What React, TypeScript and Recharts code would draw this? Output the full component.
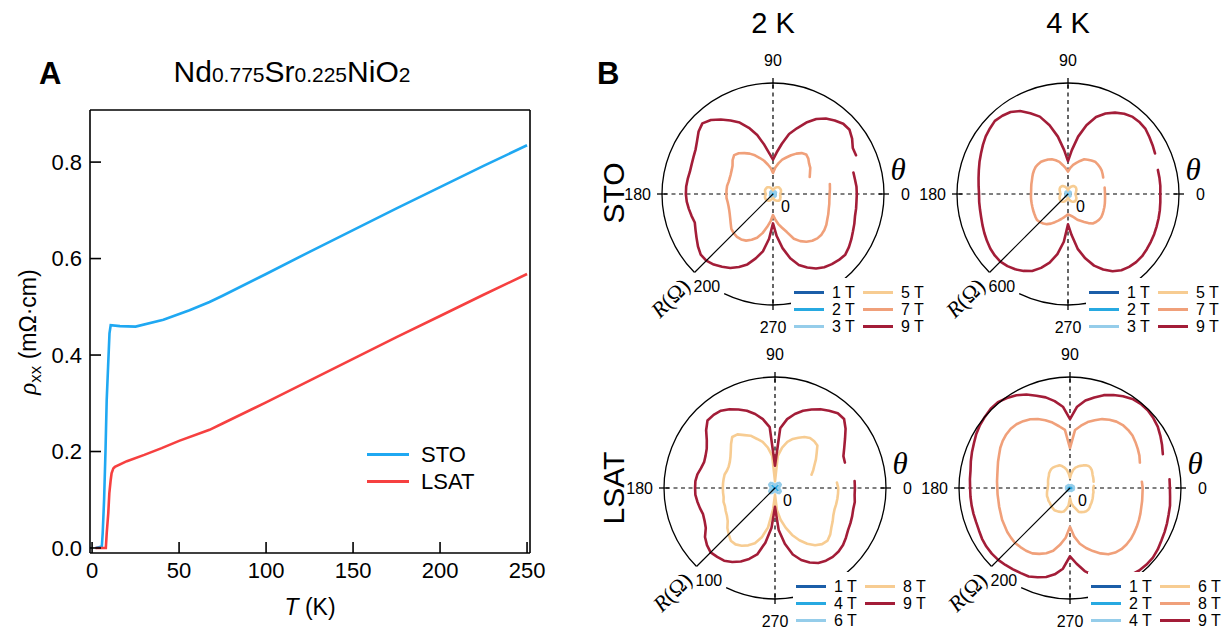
import React from 'react';
import {
  LineChart, Line, XAxis, YAxis, Legend,
  RadarChart, Radar, PolarGrid, PolarAngleAxis, PolarRadiusAxis,
} from 'recharts';

const SANS = '"Liberation Sans", Arial, Helvetica, sans-serif';
const SERIF = '"Liberation Serif", "Times New Roman", serif';

// ---------- Panel A data ----------
const STO_T = [2, 5.6, 6.1, 6.9, 7.7, 8.4, 9.2, 10, 10.7, 16, 25, 41, 56, 67.5, 75, 100, 125, 150, 175, 200, 225, 250];
const STO_RHO = [0, 0.003, 0.031, 0.1, 0.2, 0.307, 0.376, 0.445, 0.462, 0.46, 0.459, 0.473, 0.493, 0.51, 0.523, 0.568, 0.614, 0.659, 0.704, 0.748, 0.792, 0.835];
const LSAT_T = [2, 7.9, 8.4, 9.3, 9.9, 10.7, 11.2, 12.2, 13.1, 20, 30, 40, 50, 67.5, 75, 100, 125, 150, 175, 200, 225, 250];
const LSAT_RHO = [0, 0, 0.03, 0.072, 0.113, 0.141, 0.155, 0.165, 0.168, 0.18, 0.193, 0.207, 0.222, 0.245, 0.258, 0.302, 0.347, 0.392, 0.437, 0.481, 0.525, 0.568];
const X_TICKS = [0, 50, 100, 150, 200, 250];
const Y_TICKS = [0, 0.2, 0.4, 0.6, 0.8];
const STO_COLOR = '#1fa8f2';
const LSAT_COLOR = '#f64040';

// ---------- Panel B data (theta in degrees, R in ohm) ----------
const ANGLES = [
  0, 5, 10, 15, 20, 25, 30, 35, 40, 45, 50, 55, 60, 65, 70, 75, 80, 85,
  90, 95, 100, 105, 110, 115, 120, 125, 130, 135, 140, 145, 150, 155, 160, 165, 170, 175,
  180, 185, 190, 195, 200, 205, 210, 215, 220, 225, 230, 235, 240, 245, 250, 255, 260, 265,
  270, 275, 280, 285, 290, 295, 300, 305, 310, 315, 320, 325, 330, 335, 340, 345, 350, 355,
];
const THETA_TICKS = [0, 90, 180, 270];

// 2 K, STO
const STO2_9T = [
  151, 151, 150, 150, null, 165, 166, 174, 180, 179, 173, 166, 156, 142, 126, 112, 92, 75,
  62, 73, 90, 110, 127, 142, 153, 164, 174, 180, 175, 167, 161, 158, 156, 155, 156, 157,
  157, 156, 154, 152, 150, 154, 159, 165, 170, 170, 166, 160, 154, 145, 135, 120, 105, 81,
  53, 76, 99, 120, 136, 146, 155, 161, 165, 168, 170, 167, 163, 159, 156, 153, 152, 151,
];
const STO2_7T = [
  102, 103, 104, null, null, 73, 77, 82, 85, 90, 93, 90, 84, 77, 70, 64, 56, 48,
  38, 47, 54, 62, 69, 77, 84, 90, 96, 99, 95, 89, 86, 84, 83, 83, 84, 84,
  84, 84, 83, 83, 84, 86, 89, 93, 98, 100, 101, 100, 97, 91, 84, 73, 60, 49,
  38, 46, 55, 63, 73, 89, 98, 105, 110, 113, 114, 113, 111, 108, 106, 104, 103, 102,
];
const STO2_5T = [
  13, 13, 14, 15, 15, 16, 16, 16, 16, 16, 16, 15, 14, 13, 12, 10, 9, 8,
  7, 8, 9, 10, 12, 13, 14, 15, 16, 16, 16, 16, 16, 16, 15, 15, 14, 13,
  13, 13, 14, 15, 15, 16, 16, 16, 16, 16, 15, 15, 14, 13, 11, 10, 9, 8,
  7, 8, 9, 11, 12, 13, 14, 15, 16, 16, 16, 16, 15, 15, 14, 14, 13, 13,
];
const STO2_3T = [
  4, 4, 5, 5, 5, 6, 6, 6, 6, 6, 6, 6, 5, 5, 5, 4, 4, 4,
  4, 4, 4, 5, 5, 5, 6, 6, 6, 6, 6, 6, 6, 5, 5, 5, 4, 4,
  4, 4, 5, 5, 5, 6, 6, 6, 6, 6, 6, 6, 5, 5, 5, 4, 4, 4,
  4, 4, 4, 5, 5, 5, 6, 6, 6, 6, 6, 6, 6, 5, 5, 5, 4, 4,
];
const STO2_2T = [
  2, 3, 3, 3, 3, 3, 3, 3, 3, 3, 3, 3, 3, 3, 3, 3, 3, 2,
  2, 3, 3, 3, 3, 3, 3, 3, 3, 3, 3, 3, 3, 3, 3, 3, 3, 2,
  2, 3, 3, 3, 3, 3, 3, 3, 3, 3, 3, 3, 3, 3, 3, 3, 3, 2,
  2, 3, 3, 3, 3, 3, 3, 3, 3, 3, 3, 3, 3, 3, 3, 3, 3, 2,
];
const STO2_1T = [
  1, 1, 1, 1, 1, 1, 1, 1, 1, 1, 1, 1, 1, 1, 1, 1, 1, 1,
  1, 1, 1, 1, 1, 1, 1, 1, 1, 1, 1, 1, 1, 1, 1, 1, 1, 1,
  1, 1, 1, 1, 1, 1, 1, 1, 1, 1, 1, 1, 1, 1, 1, 1, 1, 1,
  1, 1, 1, 1, 1, 1, 1, 1, 1, 1, 1, 1, 1, 1, 1, 1, 1, 1,
];

// 4 K, STO
const STO4_9T = [
  499, 501, 502, 503, null, 519, 528, 537, 547, 548, 544, 530, 508, 480, 443, 385, 315, 238,
  178, 238, 315, 385, 445, 482, 518, 541, 552, 559, 551, 543, 531, 519, 509, 499, 491, 485,
  481, 482, 483, 486, 492, 499, 506, 513, 517, 517, 509, 497, 480, 459, 425, 384, 330, 259,
  164, 223, 301, 360, 412, 450, 482, 503, 514, 521, 523, 520, 517, 514, 510, 507, 504, 501,
];
const STO4_7T = [
  200, 200, 201, null, null, 210, 216, 222, 225, 227, 228, 221, 214, 207, 190, 174, 160, 142,
  121, 140, 158, 180, 194, 207, 215, 221, 227, 228, 228, 224, 219, 213, 208, 205, 202, 200,
  200, 201, 202, 203, 205, 208, 211, 215, 219, 215, 208, 199, 185, 168, 153, 140, 128, 118,
  110, 115, 122, 132, 148, 160, 175, 192, 208, 214, 218, 219, 216, 212, 209, 206, 203, 201,
];
const STO4_5T = [
  40, 41, 43, 45, 47, 50, 52, 54, 55, 55, 54, 52, 49, 45, 40, 35, 30, 25,
  20, 25, 30, 35, 40, 45, 49, 52, 54, 55, 55, 54, 52, 50, 47, 45, 43, 41,
  40, 42, 44, 46, 48, 50, 52, 53, 54, 54, 53, 51, 48, 44, 39, 34, 29, 24,
  20, 24, 29, 34, 39, 44, 48, 51, 53, 54, 54, 53, 52, 50, 47, 45, 43, 41,
];
const STO4_3T = [
  12, 12, 13, 14, 15, 16, 17, 17, 17, 17, 17, 16, 15, 14, 13, 12, 12, 11,
  11, 12, 12, 13, 14, 15, 16, 17, 17, 17, 17, 17, 16, 15, 14, 13, 12, 12,
  12, 12, 13, 14, 15, 16, 17, 17, 17, 17, 17, 16, 15, 14, 13, 12, 12, 11,
  11, 12, 12, 13, 14, 15, 16, 17, 17, 17, 17, 17, 16, 15, 14, 13, 12, 12,
];
const STO4_2T = [
  7, 7, 8, 8, 8, 9, 9, 9, 9, 9, 9, 9, 8, 8, 8, 7, 7, 7,
  7, 7, 7, 8, 8, 8, 9, 9, 9, 9, 9, 9, 9, 8, 8, 8, 7, 7,
  7, 7, 8, 8, 8, 9, 9, 9, 9, 9, 9, 9, 8, 8, 8, 7, 7, 7,
  7, 7, 7, 8, 8, 8, 9, 9, 9, 9, 9, 9, 9, 8, 8, 8, 7, 7,
];
const STO4_1T = [
  3, 3, 3, 3, 3, 3, 3, 3, 3, 3, 3, 3, 3, 3, 3, 3, 3, 3,
  3, 3, 3, 3, 3, 3, 3, 3, 3, 3, 3, 3, 3, 3, 3, 3, 3, 3,
  3, 3, 3, 3, 3, 3, 3, 3, 3, 3, 3, 3, 3, 3, 3, 3, 3, 3,
  3, 3, 3, 3, 3, 3, 3, 3, 3, 3, 3, 3, 3, 3, 3, 3, 3, 3,
];

// 2 K, LSAT
const LSAT2_9T = [
  72, 72, null, null, 67, 68, 72, 77, 83, 88, 88, 85, 82, 78, 74, 69, 63, 54,
  20, 55, 63, 69, 74, 78, 82, 85, 86, 86, 81, 75, 71, 69, 68, 69, 71, 72,
  72, 72, 71, 70, 69, 70, 72, 77, 80, 82, 81, 80, 77, 73, 68, 62, 50, 36,
  17, 38, 51, 62, 69, 74, 78, 80, 81, 81, 80, 78, 76, 75, 74, 73, 73, 72,
];
const LSAT2_8T = [
  57, 56, null, null, 35, 38, 41, 45, 49, 54, 55, 55, 53, 50, 47, 43, 37, 29,
  6, 29, 37, 43, 47, 52, 55, 59, 60, 56, 52, 49, 47, 46, 46, 47, 47, 47,
  47, 47, 47, 48, 48, 49, 50, 52, 56, 59, 62, 62, 60, 57, 53, 46, 36, 19,
  6, 20, 29, 37, 45, 52, 58, 63, 66, 67, 65, 62, 60, 58, 57, 57, 57, 57,
];
const LSAT2_6T = [
  3, 3, 4, 4, 5, 5, 6, 6, 6, 6, 6, 5, 5, 4, 4, 3, 3, 3,
  2, 3, 3, 3, 4, 4, 5, 5, 6, 6, 6, 6, 6, 5, 5, 4, 4, 3,
  3, 3, 4, 4, 5, 5, 6, 6, 6, 6, 6, 5, 5, 4, 4, 3, 3, 3,
  2, 3, 3, 3, 4, 4, 5, 5, 6, 6, 6, 6, 6, 5, 5, 4, 4, 3,
];
const LSAT2_4T = [
  2, 2, 2, 2, 2, 3, 3, 3, 3, 3, 3, 3, 2, 2, 2, 2, 2, 2,
  2, 2, 2, 2, 2, 2, 3, 3, 3, 3, 3, 3, 3, 2, 2, 2, 2, 2,
  2, 2, 2, 2, 2, 3, 3, 3, 3, 3, 3, 3, 2, 2, 2, 2, 2, 2,
  2, 2, 2, 2, 2, 2, 3, 3, 3, 3, 3, 3, 3, 2, 2, 2, 2, 2,
];
const LSAT2_1T = [
  1, 1, 1, 1, 1, 1, 1, 1, 1, 1, 1, 1, 1, 1, 1, 1, 1, 1,
  1, 1, 1, 1, 1, 1, 1, 1, 1, 1, 1, 1, 1, 1, 1, 1, 1, 1,
  1, 1, 1, 1, 1, 1, 1, 1, 1, 1, 1, 1, 1, 1, 1, 1, 1, 1,
  1, 1, 1, 1, 1, 1, 1, 1, 1, 1, 1, 1, 1, 1, 1, 1, 1, 1,
];

// 4 K, LSAT
const LSAT4_9T = [
  180, 180, null, null, 178, 183, 188, 193, 196, 198, 198, 196, 191, 185, 178, 169, 160, 147,
  124, 147, 159, 169, 177, 186, 193, 198, 202, 202, 200, 198, 195, 191, 188, 185, 182, 181,
  180, 180, 180, 180, 180, 181, 183, 184, 184, 183, 181, 179, 177, 176, 171, 166, 158, 146,
  123, 137, 152, 163, 173, 181, 187, 191, 194, 195, 195, 193, 190, 188, 186, 184, 183, 181,
];
const LSAT4_8T = [
  131, 130, null, null, 134, 138, 141, 144, 147, 148, 148, 146, 142, 137, 130, 123, 114, 105,
  72, 105, 113, 122, 130, 137, 143, 147, 150, 151, 150, 148, 145, 141, 138, 135, 133, 132,
  131, 131, 131, 132, 133, 135, 136, 138, 139, 140, 139, 138, 136, 131, 125, 117, 104, 90,
  70, 88, 102, 112, 121, 130, 138, 142, 144, 144, 143, 141, 139, 137, 135, 133, 132, 131,
];
const LSAT4_6T = [
  42, 43, null, 44, 45, 46, 47, 49, 51, 52, 52, 50, 47, 44, 41, 38, 33, 26,
  18, 26, 33, 38, 42, 45, 46, 47, 48, 48, 47, 46, 44, 43, 42, 41, 40, 40,
  40, 41, 42, 43, 44, 44, 45, 45, 46, 47, 48, 49, 48, 47, 46, 44, 38, 32,
  18, 28, 33, 38, 46, 48, 50, 51, 51, 50, 48, 47, 46, 45, 44, 43, 43, 42,
];
const LSAT4_4T = [
  7, 7, 7, 7, 7, 7, 7, 6, 6, 6, 6, 6, 6, 5, 5, 5, 5, 5,
  5, 5, 5, 5, 5, 6, 6, 6, 6, 6, 6, 6, 7, 7, 7, 7, 7, 7,
  7, 7, 7, 7, 7, 7, 7, 6, 6, 6, 6, 6, 6, 5, 5, 5, 5, 5,
  5, 5, 5, 5, 5, 6, 6, 6, 6, 6, 6, 6, 7, 7, 7, 7, 7, 7,
];
const LSAT4_2T = [
  3, 3, 3, 3, 3, 3, 3, 3, 3, 3, 3, 3, 3, 3, 3, 3, 3, 3,
  3, 3, 3, 3, 3, 3, 3, 3, 3, 3, 3, 3, 3, 3, 3, 3, 3, 3,
  3, 3, 3, 3, 3, 3, 3, 3, 3, 3, 3, 3, 3, 3, 3, 3, 3, 3,
  3, 3, 3, 3, 3, 3, 3, 3, 3, 3, 3, 3, 3, 3, 3, 3, 3, 3,
];
const LSAT4_1T = [
  1, 1, 1, 1, 1, 1, 1, 1, 1, 1, 1, 1, 1, 1, 1, 1, 1, 1,
  1, 1, 1, 1, 1, 1, 1, 1, 1, 1, 1, 1, 1, 1, 1, 1, 1, 1,
  1, 1, 1, 1, 1, 1, 1, 1, 1, 1, 1, 1, 1, 1, 1, 1, 1, 1,
  1, 1, 1, 1, 1, 1, 1, 1, 1, 1, 1, 1, 1, 1, 1, 1, 1, 1,
];

const C_DARK = '#1b5ea8';
const C_MID = '#27a9e1';
const C_PALE = '#95cdea';
const C_LORANGE = '#f7cc92';
const C_ORANGE = '#f0a07a';
const C_RED = '#a31d38';

const PANELS = [
  {
    left: 619, top: 46, rmax: 200,
    series: [
      { name: '1 T', values: STO2_1T, color: C_DARK },
      { name: '2 T', values: STO2_2T, color: C_MID },
      { name: '3 T', values: STO2_3T, color: C_PALE },
      { name: '5 T', values: STO2_5T, color: C_LORANGE },
      { name: '7 T', values: STO2_7T, color: C_ORANGE },
      { name: '9 T', values: STO2_9T, color: C_RED },
    ],
  },
  {
    left: 914, top: 46, rmax: 600,
    series: [
      { name: '1 T', values: STO4_1T, color: C_DARK },
      { name: '2 T', values: STO4_2T, color: C_MID },
      { name: '3 T', values: STO4_3T, color: C_PALE },
      { name: '5 T', values: STO4_5T, color: C_LORANGE },
      { name: '7 T', values: STO4_7T, color: C_ORANGE },
      { name: '9 T', values: STO4_9T, color: C_RED },
    ],
  },
  {
    left: 621, top: 340, rmax: 100,
    series: [
      { name: '1 T', values: LSAT2_1T, color: C_DARK },
      { name: '4 T', values: LSAT2_4T, color: C_MID },
      { name: '6 T', values: LSAT2_6T, color: C_PALE },
      { name: '8 T', values: LSAT2_8T, color: C_LORANGE },
      { name: '9 T', values: LSAT2_9T, color: C_RED },
    ],
  },
  {
    left: 916, top: 340, rmax: 200,
    series: [
      { name: '1 T', values: LSAT4_1T, color: C_DARK },
      { name: '2 T', values: LSAT4_2T, color: C_MID },
      { name: '4 T', values: LSAT4_4T, color: C_PALE },
      { name: '6 T', values: LSAT4_6T, color: C_LORANGE },
      { name: '8 T', values: LSAT4_8T, color: C_ORANGE },
      { name: '9 T', values: LSAT4_9T, color: C_RED },
    ],
  },
];

// ---------- helpers ----------
const labelStyle = { fontFamily: SANS, fontSize: 16, fill: '#000' };

const AngleTick = (props: any) => {
  const { x, y, payload } = props;
  const v = Number(payload && payload.value);
  if (v === 0) {
    return (
      <g>
        <line x1={x - 13} y1={y} x2={x - 3} y2={y} stroke="#000" strokeWidth={1.3} />
        <text x={x + 9} y={y + 6} textAnchor="start" {...labelStyle}>0</text>
      </g>
    );
  }
  if (v === 90) {
    return (
      <g>
        <line x1={x} y1={y + 3} x2={x} y2={y + 13} stroke="#000" strokeWidth={1.3} />
        <text x={x} y={y - 9} textAnchor="middle" {...labelStyle}>90</text>
      </g>
    );
  }
  if (v === 180) {
    return (
      <g>
        <line x1={x + 3} y1={y} x2={x + 13} y2={y} stroke="#000" strokeWidth={1.3} />
        <text x={x - 3} y={y + 6} textAnchor="end" {...labelStyle}>180</text>
      </g>
    );
  }
  if (v === 270) {
    return (
      <g>
        <line x1={x} y1={y - 13} x2={x} y2={y - 3} stroke="#000" strokeWidth={1.3} />
        <text x={x} y={y + 20} textAnchor="middle" {...labelStyle}>270</text>
      </g>
    );
  }
  return <g />;
};

const makeRadiusTick = (rmax: number) => (props: any) => {
  const { x, y, payload } = props;
  const v = Number(payload && payload.value);
  if (v === 0) {
    return <text x={x + 8} y={y + 18} textAnchor="start" {...labelStyle}>0</text>;
  }
  if (Math.abs(v - rmax) < 1e-6) {
    const ax = x - 3;
    const ay = y + 15;
    return (
      <g>
        <text x={x - 1} y={y + 20} textAnchor="start" {...labelStyle}>{rmax}</text>
        <text x={ax} y={ay} textAnchor="end" transform={`rotate(-45 ${ax} ${ay})`} fontFamily={SERIF} fontSize={22} fill="#000">
          <tspan fontStyle="italic">R</tspan>(Ω)
        </text>
      </g>
    );
  }
  return <g />;
};

// Draws the radar outline from the library-computed points, leaving the
// unmeasured angles (null values) open instead of closing the loop.
const OpenRadarShape = (props: any) => {
  const { points, stroke, strokeWidth } = props;
  const pts: any[] = points || [];
  const n = pts.length;
  const isGap = (p: any) => p == null || p.value == null || !Number.isFinite(p.x) || !Number.isFinite(p.y);
  const firstGap = pts.findIndex(isGap);
  let d = '';
  if (firstGap < 0) {
    d = pts.map((p, i) => `${i ? 'L' : 'M'}${p.x},${p.y}`).join('') + 'Z';
  } else {
    let pen = false;
    for (let k = 1; k <= n; k++) {
      const p = pts[(firstGap + k) % n];
      if (isGap(p)) { pen = false; continue; }
      d += `${pen ? 'L' : 'M'}${p.x},${p.y}`;
      pen = true;
    }
  }
  return <path d={d} fill="none" stroke={stroke} strokeWidth={strokeWidth} strokeLinejoin="round" strokeLinecap="round" />;
};

const PolarLegend = ({ items }: any) => (
  <div
    style={{
      display: 'grid', gridTemplateRows: 'repeat(3, 17px)', gridAutoFlow: 'column', gridAutoColumns: '69px',
      background: '#fff', padding: '6px 0 0 3px', width: 134, height: 58, boxSizing: 'border-box',
      fontFamily: SANS, fontSize: 16, color: '#000', lineHeight: '17px',
    }}
  >
    {items.map((it: any) => (
      <div key={it.name} style={{ display: 'flex', alignItems: 'center', whiteSpace: 'nowrap' }}>
        <span style={{ display: 'inline-block', width: 30, height: 3, background: it.color, marginRight: 8 }} />
        <span>{it.name}</span>
      </div>
    ))}
  </div>
);

function PolarPanel({ left, top, rmax, series }: any) {
  const W = 310, H = 290, CX = 154, CY = 148, R = 111;
  const data = ANGLES.map((a, i) => {
    const row: any = { angle: a };
    series.forEach((s: any, k: number) => { row['s' + k] = s.values[i]; });
    return row;
  });
  const circ = 2 * Math.PI * R;
  const dash = `${(circ * 116) / 360} ${(circ * 19) / 360} ${circ} 0`;
  return (
    <div style={{ position: 'absolute', left, top }}>
      <RadarChart
        width={W} height={H} data={data} cx={CX} cy={CY} innerRadius={0} outerRadius={R}
        startAngle={0} endAngle={360} margin={{ top: 0, right: 0, bottom: 0, left: 0 }}
      >
        <PolarGrid gridType="circle" polarAngles={THETA_TICKS} polarRadius={[]} stroke="#000" strokeWidth={1.2} strokeDasharray="4 3.5" />
        <PolarAngleAxis
          dataKey="angle" type="number" domain={[0, 360]} ticks={THETA_TICKS} tickCount={5} axisLineType="circle"
          axisLine={{ stroke: '#000', strokeWidth: 1.3, strokeDasharray: dash }}
          tickLine={false} tickSize={8} tick={AngleTick}
        />
        <PolarRadiusAxis
          angle={225} type="number" domain={[0, rmax]} allowDataOverflow
          axisLine={{ stroke: '#000', strokeWidth: 1.2 }} tickLine={false} tick={makeRadiusTick(rmax)}
        />
        {series.map((s: any, k: number) => (
          <Radar
            key={s.name} name={s.name} dataKey={'s' + k} stroke={s.color} strokeWidth={2.6}
            fill="none" fillOpacity={0} dot={false} activeDot={false} isAnimationActive={false}
            shape={OpenRadarShape}
          />
        ))}
        <Legend
          layout="horizontal" verticalAlign="middle" align="center"
          content={() => <PolarLegend items={series} />}
          wrapperStyle={{ left: CX + 18, top: CY + 84, width: 134, height: 58 }}
        />
      </RadarChart>
    </div>
  );
}

const ALegend = () => (
  <div style={{ fontFamily: SANS, fontSize: 22, color: '#000' }}>
    {[['STO', STO_COLOR], ['LSAT', LSAT_COLOR]].map(([n, c]) => (
      <div key={n} style={{ display: 'flex', alignItems: 'center', height: 27 }}>
        <span style={{ display: 'inline-block', width: 42, height: 3, background: c, marginRight: 12 }} />
        <span>{n}</span>
      </div>
    ))}
  </div>
);

export default function App() {
  const stoData = STO_T.map((t, i) => ({ t, rho: STO_RHO[i] }));
  const lsatData = LSAT_T.map((t, i) => ({ t, rho: LSAT_RHO[i] }));
  const axisStroke = { stroke: '#000', strokeWidth: 1.6 };
  const tickFont = { fill: '#000', fontSize: 22, fontFamily: SANS };
  return (
    <div style={{ position: 'absolute', left: 0, top: 0, width: 1225, height: 630, background: '#fff', overflow: 'hidden' }}>
      <div style={{ position: 'absolute', left: 0, top: 0 }}>
        <LineChart width={560} height={630} margin={{ top: 109, right: 29, bottom: 47, left: 30 }}>
          <XAxis
            xAxisId="b" type="number" dataKey="t" domain={[-1.2, 251.7]} allowDataOverflow ticks={X_TICKS}
            orientation="bottom" height={30} tickSize={-11} tickMargin={20} interval={0}
            axisLine={axisStroke} tickLine={axisStroke} tick={tickFont}
          />
          <XAxis
            xAxisId="t" type="number" dataKey="t" domain={[-1.2, 251.7]} allowDataOverflow ticks={X_TICKS}
            orientation="top" height={1} tickSize={-11} tick={false} interval={0}
            axisLine={axisStroke} tickLine={axisStroke}
          />
          <YAxis
            yAxisId="l" type="number" domain={[-0.0104, 0.908]} allowDataOverflow ticks={Y_TICKS}
            width={60} tickSize={-11} tickMargin={19} interval={0}
            tickFormatter={(v: number) => v.toFixed(1)}
            axisLine={axisStroke} tickLine={axisStroke} tick={tickFont}
          />
          <YAxis
            yAxisId="r" orientation="right" type="number" domain={[-0.0104, 0.908]} allowDataOverflow ticks={Y_TICKS}
            width={1} tickSize={-11} tick={false} interval={0}
            axisLine={axisStroke} tickLine={axisStroke}
          />
          <Line xAxisId="b" yAxisId="l" data={stoData} dataKey="rho" name="STO" type="linear" stroke={STO_COLOR} strokeWidth={2.6} dot={false} activeDot={false} isAnimationActive={false} />
          <Line xAxisId="b" yAxisId="l" data={lsatData} dataKey="rho" name="LSAT" type="linear" stroke={LSAT_COLOR} strokeWidth={2.6} dot={false} activeDot={false} isAnimationActive={false} />
          <Legend
            layout="horizontal" verticalAlign="middle" align="center"
            content={() => <ALegend />}
            wrapperStyle={{ left: 367, top: 441, width: 130, height: 56 }}
          />
        </LineChart>
      </div>

      {PANELS.map((p, i) => <PolarPanel key={i} {...p} />)}

      <svg width={1225} height={630} style={{ position: 'absolute', left: 0, top: 0, pointerEvents: 'none' }}>
        <text x={39} y={84} fontFamily={SANS} fontSize={31} fontWeight="bold" fill="#000">A</text>
        <text x={597} y={84} fontFamily={SANS} fontSize={31} fontWeight="bold" fill="#000">B</text>
        <text x={292} y={82} textAnchor="middle" fontFamily={SANS} fontSize={30} fill="#000">
          Nd<tspan fontSize={21}>0.775</tspan>Sr<tspan fontSize={21}>0.225</tspan>NiO<tspan fontSize={21}>2</tspan>
        </text>
        <text transform="translate(36 332) rotate(-90)" textAnchor="middle" fontFamily={SANS} fontSize={23} fill="#000">
          <tspan fontStyle="italic" fontFamily={SERIF} fontSize={25}>ρ</tspan>
          <tspan fontSize={17} dy={5}>xx</tspan>
          <tspan dy={-5}> (mΩ·cm)</tspan>
        </text>
        <text x={310} y={615} textAnchor="middle" fontFamily={SANS} fontSize={23} fill="#000">
          <tspan fontStyle="italic">T</tspan> (K)
        </text>
        <text x={773} y={33} textAnchor="middle" fontFamily={SANS} fontSize={29} fill="#000">2 K</text>
        <text x={1068} y={33} textAnchor="middle" fontFamily={SANS} fontSize={29} fill="#000">4 K</text>
        <text transform="translate(624 193) rotate(-90)" textAnchor="middle" fontFamily={SANS} fontSize={30} fill="#000">STO</text>
        <text transform="translate(624 488) rotate(-90)" textAnchor="middle" fontFamily={SANS} fontSize={30} fill="#000">LSAT</text>
        <text x={898} y={180} textAnchor="middle" fontFamily={SERIF} fontStyle="italic" fontSize={31} fill="#000">θ</text>
        <text x={1193} y={180} textAnchor="middle" fontFamily={SERIF} fontStyle="italic" fontSize={31} fill="#000">θ</text>
        <text x={900} y={474} textAnchor="middle" fontFamily={SERIF} fontStyle="italic" fontSize={31} fill="#000">θ</text>
        <text x={1195} y={474} textAnchor="middle" fontFamily={SERIF} fontStyle="italic" fontSize={31} fill="#000">θ</text>
      </svg>
    </div>
  );
}
